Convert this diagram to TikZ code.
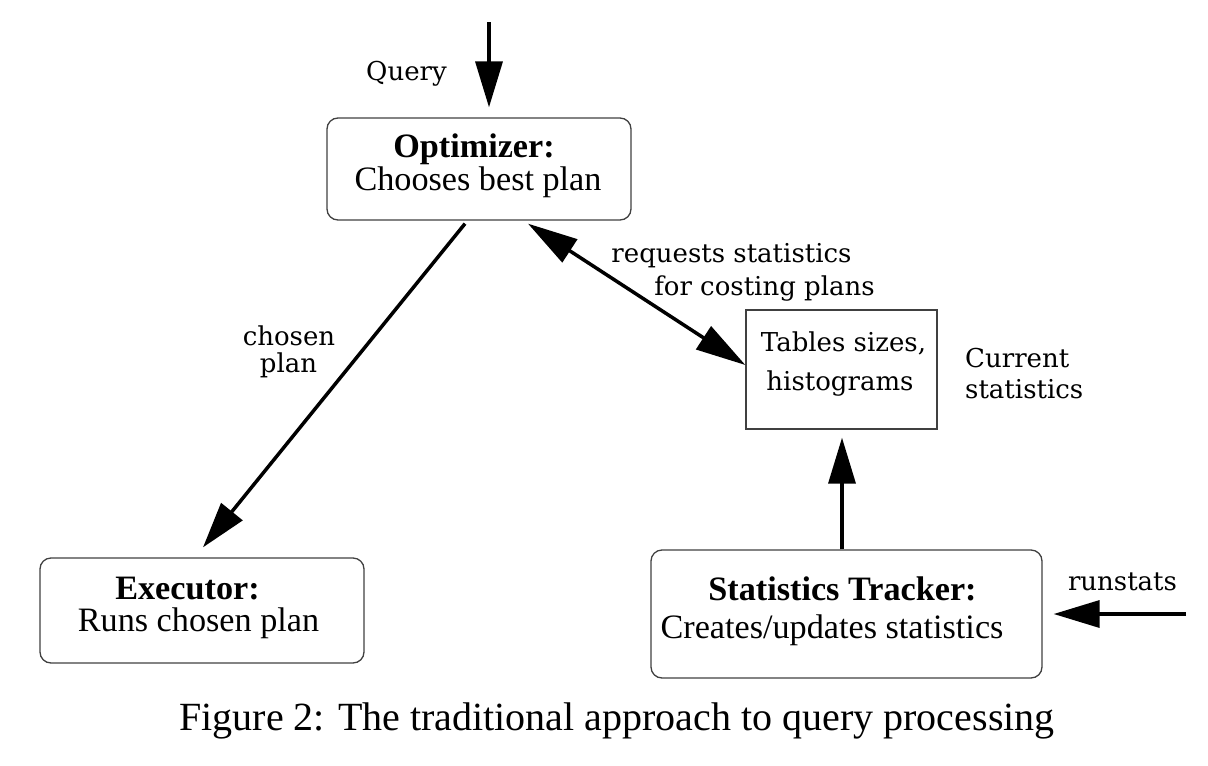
\documentclass[tikz,border=0pt]{standalone}
\usepackage{fontspec}
\setmainfont{Liberation Serif}
\newfontfamily\lblfont{DejaVu Serif}
\usetikzlibrary{arrows.meta}

\begin{document}
\begin{tikzpicture}[x=1pt,y=-1pt,
	box/.style={draw=black!75,line width=1.3pt,rounded corners=11pt,inner sep=0pt},
	tablebox/.style={draw=black!75,line width=1.3pt,inner sep=0pt},
	boxtext/.style={anchor=base,inner sep=0pt,font=\fontsize{34.2}{40}\selectfont},
	lbl/.style={anchor=base,inner sep=0pt,font=\lblfont\fontsize{26}{30}\selectfont},
	arr/.style={-{Triangle[length=46pt,width=27pt]},line width=3.5pt},
	dblarr/.style={{Triangle[length=50pt,width=27pt]}-{Triangle[length=50pt,width=27pt]},line width=3.5pt}]
		% Query processing
		\useasboundingbox (0,0) rectangle (1208,766);
		\node[box,minimum width=304pt,minimum height=102pt] (Optimizer) at (479,169) {};
		\node[box,minimum width=324pt,minimum height=105pt] (Executor) at (202,610.5) {};
		\node[tablebox,minimum width=191pt,minimum height=119pt] (Tables) at (841.5,369.5) {};
		\node[box,minimum width=391pt,minimum height=128pt] (Tracker) at (846.5,614) {};
		
		\node[boxtext,font=\fontsize{34.2}{40}\selectfont\bfseries] (OptTitle) at (474,157) {Optimizer:};
		\node[boxtext] (OptText) at (478,190) {Chooses best plan};
		\node[boxtext,font=\fontsize{34.2}{40}\selectfont\bfseries] (ExeTitle) at (187.5,599) {Executor:};
		\node[boxtext] (ExeText) at (198.5,631) {Runs chosen plan};
		\node[boxtext,font=\fontsize{34.2}{40}\selectfont\bfseries] (TrkTitle) at (842.5,600) {Statistics Tracker:};
		\node[boxtext] (TrkText) at (832,638) {Creates/updates statistics};
		\node[lbl] (TabText1) at (843.5,351) {Tables sizes,};
		\node[lbl] (TabText2) at (840,390) {histograms};
		
		\coordinate (QueryIn) at (489,22);
		\coordinate (RunIn) at (1186,614);
		\draw[arr] (QueryIn) to ([xshift=10pt,yshift=10pt]Optimizer.north);
		\draw[arr] ([xshift=-14pt,yshift=-3pt]Optimizer.south) to ([xshift=1pt,yshift=10pt]Executor.north);
		\draw[dblarr] ([xshift=49pt,yshift=-3pt]Optimizer.south) to ([yshift=4.5pt]Tables.west);
		\draw[arr] ([xshift=-4.5pt]Tracker.north) to ([xshift=0.5pt,yshift=-8pt]Tables.south);
		\draw[arr] (RunIn) to ([xshift=11pt]Tracker.east);
		
		\node[lbl] (Query) at (406.5,80) {Query};
		\node[lbl] (Chosen1) at (289,345) {chosen};
		\node[lbl] (Chosen2) at (288.5,372) {plan};
		\node[lbl] (Req1) at (731.5,262) {requests statistics};
		\node[lbl] (Req2) at (764.5,295) {for costing plans};
		\node[lbl,anchor=base west] (Cur1) at (965,367) {Current};
		\node[lbl,anchor=base west] (Cur2) at (965,398) {statistics};
		\node[lbl] (Runstats) at (1122.5,590) {runstats};
		\node[anchor=base,inner sep=0pt,font=\fontsize{40}{46}\selectfont] (Caption) at (617,730) {Figure 2: The traditional approach to query processing};
		
		\end{tikzpicture}
\end{document}
